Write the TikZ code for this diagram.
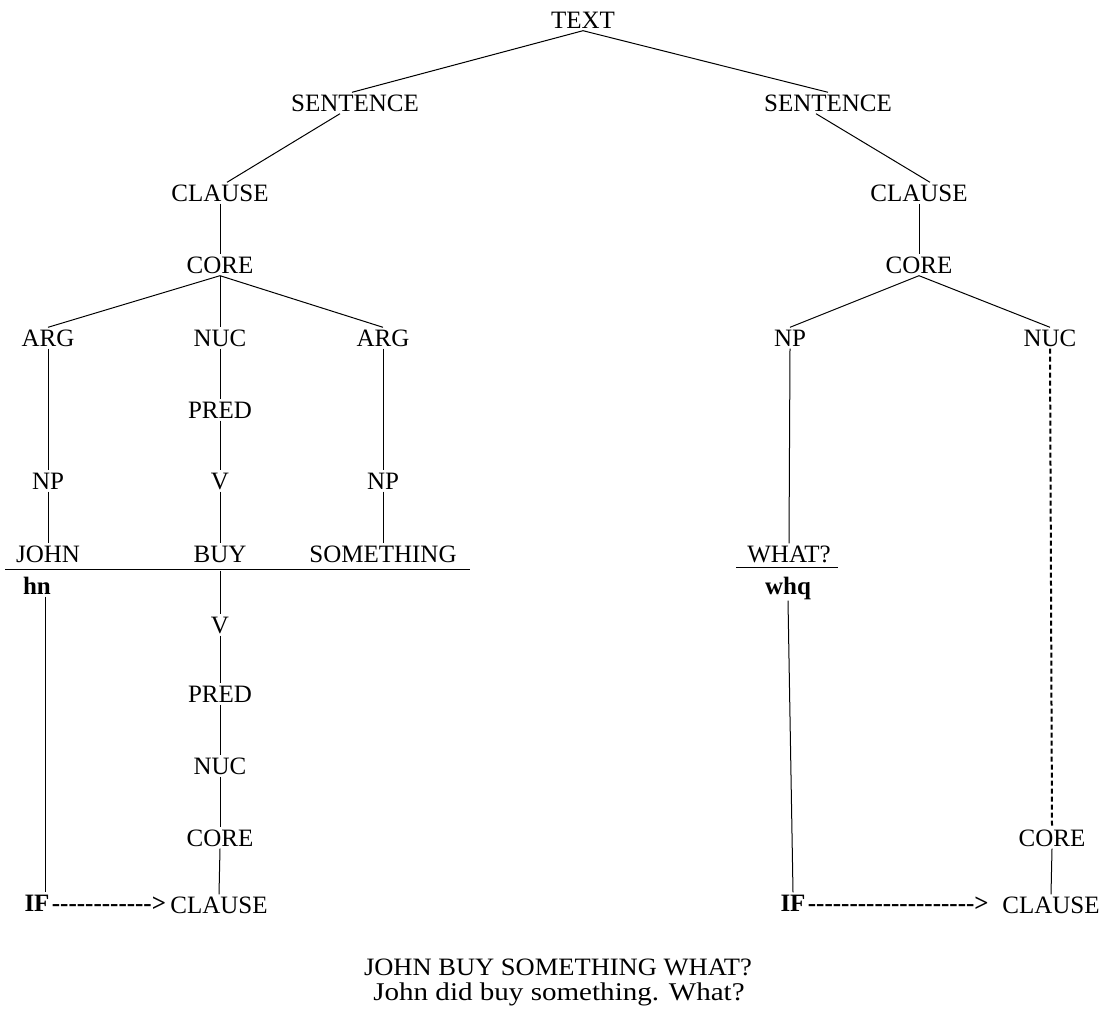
\documentclass[tikz,border=0pt]{standalone}
\usepackage{fontspec}
\setmainfont{Liberation Serif}
\newfontfamily\capfont{Liberation Serif}[FakeStretch=1.06]
\newfontfamily\capfontwide{Liberation Serif}[FakeStretch=1.14]
\newcommand\hy{\mbox{-}}
\begin{document}
\begin{tikzpicture}[x=1pt,y=-1pt,
  lbl/.style={font=\fontsize{25}{30}\selectfont, inner sep=2pt, text height=17pt, text depth=0pt},
  bld/.style={lbl, font=\fontsize{25}{30}\selectfont\bfseries},
  edge/.style={line width=1pt},
  lnk/.style={line width=2pt, dash pattern=on 5pt off 3pt}]
\useasboundingbox (0,0) rectangle (1105,1014);

% left sentence
\node[lbl] (text) at (583,20) {TEXT};
\node[lbl] (s1) at (355,103) {SENTENCE};
\node[lbl] (cl1) at (220,193) {CLAUSE};
\node[lbl] (co1) at (220,265) {CORE};
\node[lbl] (arg1) at (48,338) {ARG};
\node[lbl] (nuc1) at (220,338) {NUC};
\node[lbl] (arg2) at (383,338) {ARG};
\node[lbl] (pred1) at (220,410) {PRED};
\node[lbl] (np1) at (48,481) {NP};
\node[lbl] (v1) at (220,481) {V};
\node[lbl] (np2) at (383,481) {NP};
\node[lbl] (john) at (48,554) {JOHN};
\node[lbl] (buy) at (220,554) {BUY};
\node[lbl] (some) at (383,554) {SOMETHING};
\node[bld] (hn) at (37,586) {hn};
\node[lbl] (v2) at (220,625) {V};
\node[lbl] (pred2) at (220,694) {PRED};
\node[lbl] (nuc2) at (220,766) {NUC};
\node[lbl] (co2) at (220,838) {CORE};
\node[lbl] (cl2) at (219,905) {CLAUSE};
\node[bld] (if1) at (37,903) {IF};
\node[bld, anchor=west, inner sep=0pt] (arr1) at (if1.east) {\hy\hy\hy\hy\hy\hy\hy\hy\hy\hy\hy\hy>};

% right sentence
\node[lbl] (s2) at (828,103) {SENTENCE};
\node[lbl] (cl3) at (919,193) {CLAUSE};
\node[lbl] (co3) at (919,265) {CORE};
\node[lbl] (np3) at (790,338) {NP};
\node[lbl] (nuc3) at (1050,338) {NUC};
\node[lbl] (what) at (789,554) {WHAT?};
\node[bld] (whq) at (788,586) {whq};
\node[lbl] (co4) at (1052,838) {CORE};
\node[lbl] (cl4) at (1051,905) {CLAUSE};
\node[bld] (if2) at (793,903) {IF};
\node[bld, anchor=west, inner sep=0pt] (arr2) at (if2.east) {\hy\hy\hy\hy\hy\hy\hy\hy\hy\hy\hy\hy\hy\hy\hy\hy\hy\hy\hy\hy>};

% caption
\node[lbl, font=\fontsize{25}{30}\capfont] (cap1) at (558,967) {JOHN BUY SOMETHING WHAT?};
\node[lbl, font=\fontsize{25.5}{30}\capfontwide] (cap2) at (559,992) {John did buy something. What?};

% tree edges
\draw[edge] (text.south) -- ([xshift=-3pt]s1.north);
\draw[edge] (text.south) -- (s2.north);
\draw[edge] ([xshift=-15pt]s1.south) -- ([xshift=7pt]cl1.north);
\draw[edge] (cl1.south) -- (co1.north);
\draw[edge] (co1.south) -- (arg1.north);
\draw[edge] (co1.south) -- (nuc1.north);
\draw[edge] (co1.south) -- (arg2.north);
\draw[edge] (arg1.south) -- (np1.north);
\draw[edge] (np1.south) -- (john.north);
\draw[edge] (nuc1.south) -- (pred1.north);
\draw[edge] (pred1.south) -- (v1.north);
\draw[edge] (v1.south) -- (buy.north);
\draw[edge] (arg2.south) -- (np2.north);
\draw[edge] (np2.south) -- (some.north);
\coordinate (bar1l) at (5,569);
\coordinate (bar1r) at (470,569);
\draw[edge] (bar1l) -- (bar1r);
\draw[edge] ([xshift=8pt]hn.south) -- ([xshift=8pt]hn.south |- if1.north);
\draw[edge] (buy.south) ++(0,6) -- (v2.north);
\draw[edge] (v2.south) -- (pred2.north);
\draw[edge] (pred2.south) -- (nuc2.north);
\draw[edge] (nuc2.south) -- (co2.north);
\draw[edge] (co2.south) -- (cl2.north);

\draw[edge] ([xshift=-12pt]s2.south) -- ([xshift=11pt]cl3.north);
\draw[edge] (cl3.south) -- (co3.north);
\draw[edge] (co3.south) -- (np3.north);
\draw[edge] (co3.south) -- (nuc3.north);
\draw[edge] (np3.south) -- (what.north);
\coordinate (bar2l) at (736,567);
\coordinate (bar2r) at (838,567);
\draw[edge] (bar2l) -- (bar2r);
\draw[edge] (whq.south) ++(0,4) -- (if2.north);
\draw[lnk] (nuc3.south) -- (co4.north);
\draw[edge] (co4.south) -- (cl4.north);
\end{tikzpicture}
\end{document}
